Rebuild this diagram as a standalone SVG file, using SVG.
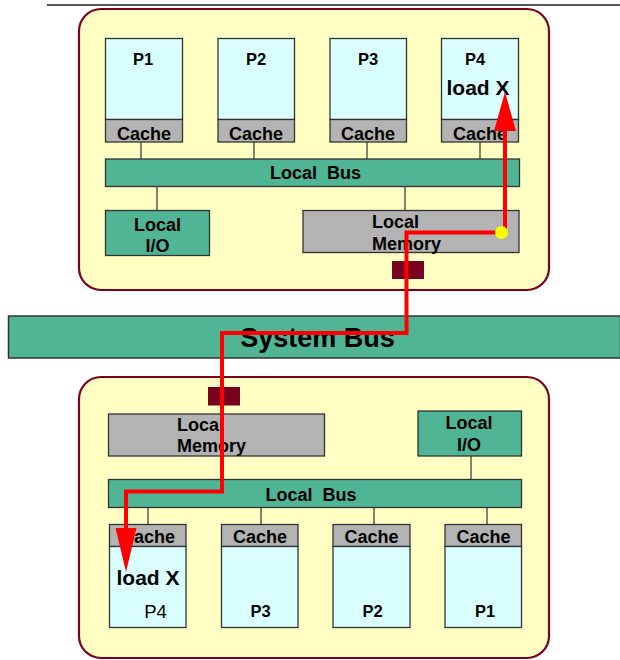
<svg xmlns="http://www.w3.org/2000/svg" width="620" height="660" viewBox="0 0 620 660">
<style>
text{font-family:"Liberation Sans",Arial,sans-serif;font-weight:bold;fill:#000;text-anchor:middle}
.node{fill:#FFFFC4;stroke:#7B0024;stroke-width:2.2}
.proc{fill:#D9FFFF;stroke:#333;stroke-width:1.3}
.cache{fill:#B3B3B3;stroke:#333;stroke-width:1.3}
.bus{fill:#50B595;stroke:#333;stroke-width:1.3}
.mem{fill:#B3B3B3;stroke:#333;stroke-width:1.3}
.port{fill:#7A0020}
.wire{stroke:#333;stroke-width:1.2;fill:none}
.red{stroke:#FF0000;stroke-width:4;fill:none;stroke-linejoin:miter}
.lbl{font-size:16.5px}
.cl{font-size:18px}
.big{font-size:21px}
</style>
<line x1="47" y1="5" x2="620" y2="5" stroke="#555" stroke-width="2"/>

<g id="nodeA">
<rect class="node" x="79" y="9" width="470" height="281" rx="22"/>
</g>
<g id="nodeB">
<rect class="node" x="79" y="377" width="470" height="281" rx="22"/>
</g>
<g id="systemBus">
<rect x="8.5" y="316" width="612" height="42" fill="#50B595" stroke="#333" stroke-width="1.5"/>
<text x="317.5" y="347" style="font-size:27px">System Bus</text>
</g>

<g id="A_P1"><rect class="proc" x="105.5" y="38.5" width="77" height="81"/><text class="lbl" x="143" y="64.5">P1</text></g>
<g id="A_P2"><rect class="proc" x="218" y="38.5" width="76.5" height="81"/><text class="lbl" x="256" y="64.5">P2</text></g>
<g id="A_P3"><rect class="proc" x="330" y="38.5" width="76.5" height="81"/><text class="lbl" x="368" y="64.5">P3</text></g>
<g id="A_P4"><rect class="proc" x="441.5" y="38.5" width="77" height="81"/><text class="lbl" x="475" y="64.5">P4</text><text class="big" x="478" y="95">load X</text></g>
<g id="A_C1"><rect class="cache" x="105.5" y="119.5" width="77" height="22.5"/><text class="cl" x="144" y="139.5">Cache</text></g>
<g id="A_C2"><rect class="cache" x="218" y="119.5" width="76.5" height="22.5"/><text class="cl" x="256" y="139.5">Cache</text></g>
<g id="A_C3"><rect class="cache" x="330" y="119.5" width="76.5" height="22.5"/><text class="cl" x="368" y="139.5">Cache</text></g>
<g id="A_C4"><rect class="cache" x="441.5" y="119.5" width="77" height="22.5"/><text class="cl" x="480" y="139.5">Cache</text></g>
<g id="A_LocalBus"><rect class="bus" x="105.5" y="159" width="414" height="27.5"/><text class="cl" x="315.5" y="179" xml:space="preserve">Local  Bus</text></g>
<g id="A_LocalIO"><rect class="bus" x="105.5" y="210.5" width="104" height="45"/><text class="cl" x="157.5" y="231">Local</text><text class="cl" x="157.5" y="251.5">I/O</text></g>
<g id="A_LocalMemory"><rect class="mem" x="303" y="210.5" width="216" height="42"/><text class="cl" x="372" y="228" style="text-anchor:start">Local</text><text class="cl" x="372" y="249.5" style="text-anchor:start">Memory</text></g>
<g id="A_Port"><rect class="port" x="392" y="261" width="32" height="18"/></g>

<g id="B_LocalMemory"><rect class="mem" x="108.5" y="414" width="216" height="42"/><text class="cl" x="177" y="431" style="text-anchor:start">Local</text><text class="cl" x="177" y="451.5" style="text-anchor:start">Memory</text></g>
<g id="B_LocalIO"><rect class="bus" x="418" y="411" width="103.5" height="45"/><text class="cl" x="469" y="429">Local</text><text class="cl" x="469" y="450.5">I/O</text></g>
<g id="B_LocalBus"><rect class="bus" x="108.5" y="479.5" width="413" height="28"/><text class="cl" x="311" y="501" xml:space="preserve">Local  Bus</text></g>
<g id="B_Port"><rect class="port" x="208" y="387" width="32" height="18.5"/></g>
<g id="B_C4"><rect class="cache" x="109.5" y="524.5" width="76.5" height="22"/><text class="cl" x="148" y="542.5">Cache</text></g>
<g id="B_C3"><rect class="cache" x="221.5" y="524.5" width="76.5" height="22"/><text class="cl" x="260" y="542.5">Cache</text></g>
<g id="B_C2"><rect class="cache" x="333" y="524.5" width="77" height="22"/><text class="cl" x="371.5" y="542.5">Cache</text></g>
<g id="B_C1"><rect class="cache" x="445" y="524.5" width="76.5" height="22"/><text class="cl" x="483.5" y="542.5">Cache</text></g>
<g id="B_P4"><rect class="proc" x="109.5" y="546.5" width="76.5" height="81"/><text class="big" x="148" y="585">load X</text><text x="155.5" y="618" style="font-size:18.5px;font-weight:normal">P4</text></g>
<g id="B_P3"><rect class="proc" x="221.5" y="546.5" width="76.5" height="81"/><text class="lbl" x="260.5" y="617">P3</text></g>
<g id="B_P2"><rect class="proc" x="333" y="546.5" width="77" height="81"/><text class="lbl" x="372.5" y="617">P2</text></g>
<g id="B_P1"><rect class="proc" x="445" y="546.5" width="76.5" height="81"/><text class="lbl" x="485" y="617">P1</text></g>

<g id="connectors">
<path class="wire" d="M141 142V159M254 142V159M367 142V159M480 142V159M157 186.5V210.5M405 186.5V210.5"/>
<path class="wire" d="M471 456V479.5M148 507.5V524.5M261 507.5V524.5M374 507.5V524.5M487 507.5V524.5"/>
<path class="red" d="M502 232.5H406.5V333H222V491.5H126V532"/>
<path class="red" d="M505 232.5V128"/>
<polygon points="505,92 516,131 494,131" fill="#FF0000"/>
<polygon points="126,572 115.5,528 136.5,528" fill="#FF0000"/>
<circle cx="501.5" cy="232.5" r="6.5" fill="#FFFF00"/>
</g>
</svg>
